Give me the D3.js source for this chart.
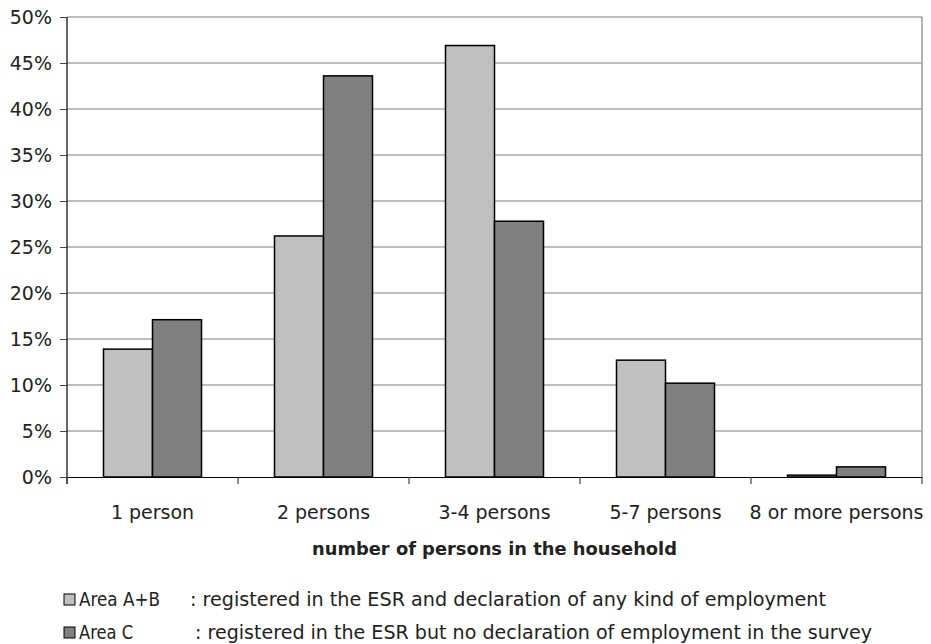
<!DOCTYPE html>
<html><head><meta charset="utf-8">
<script src="https://cdn.jsdelivr.net/npm/d3@7"></script>
<style>body{margin:0;background:#fff}svg{display:block}text{font-family:"DejaVu Sans",sans-serif;fill:#222}</style>
</head><body><svg id="c" width="931" height="644"></svg>
<script>
const categories = ["1 person","2 persons","3-4 persons","5-7 persons","8 or more persons"];
const areaAB = [13.9, 26.2, 46.9, 12.7, 0.2];
const areaC  = [17.1, 43.6, 27.8, 10.2, 1.1];
const seriesNames = ["Area A+B","Area C"];
const seriesDesc = [": registered in the ESR and declaration of any kind of employment", ": registered in the ESR but no declaration of employment in the survey"];
const yTicks = [0,5,10,15,20,25,30,35,40,45,50];
const colors = ["#c0c0c0","#808080"];

const svg = d3.select("#c");
const L=67, R=922, T=17, B=477;
const x = d3.scaleBand().domain(categories).range([L,R]);
const bw = x.bandwidth();
const grpW = 98;
const y = d3.scaleLinear().domain([0,50]).range([B,T]);

// gridlines
svg.append("g").selectAll("line").data(yTicks.filter(d=>d>0)).join("line")
  .attr("x1",L).attr("x2",R).attr("y1",d=>y(d)).attr("y2",d=>y(d))
  .attr("stroke","#7f7f7f").attr("stroke-width",1.2);
// right border
svg.append("line").attr("x1",R).attr("x2",R).attr("y1",T).attr("y2",B).attr("stroke","#999").attr("stroke-width",1.5);

// bars
[areaAB, areaC].forEach((vals,si)=>{
  svg.append("g").selectAll("rect").data(vals).join("rect")
    .attr("x",(d,i)=>x(categories[i]) + (bw-grpW)/2 + si*grpW/2)
    .attr("width",grpW/2)
    .attr("y",d=>y(d)).attr("height",d=>B-y(d))
    .attr("fill",colors[si]).attr("stroke","#000").attr("stroke-width",1.5);
});

// y axis
const ya = svg.append("g").attr("transform",`translate(${L},0)`)
  .call(d3.axisLeft(y).tickValues(yTicks).tickFormat(d=>d+"%").tickSize(7).tickPadding(8));
ya.select(".domain").attr("d",`M0,${T}V${B+7}`).attr("stroke","#000").attr("stroke-width",1.2);
ya.selectAll(".tick line").attr("stroke","#444");
ya.selectAll("text").attr("font-size",19).attr("font-family","DejaVu Sans").attr("fill","#222").attr("dy","0.35em");

// x axis
const xa = svg.append("g").attr("transform",`translate(0,${B})`)
  .call(d3.axisBottom(x).tickSize(0).tickPadding(0));
xa.select(".domain").attr("stroke","#000").attr("stroke-width",1.2);
xa.selectAll("text").attr("font-size",19).attr("font-family","DejaVu Sans").attr("fill","#222")
  .attr("dy",0).attr("y",42);
svg.append("g").selectAll("line").data(categories.concat([null])).join("line")
  .attr("x1",(d,i)=>L+i*bw).attr("x2",(d,i)=>L+i*bw).attr("y1",B).attr("y2",B+7)
  .attr("stroke","#444").attr("stroke-width",1.2);

// axis title
svg.append("text").attr("x",(L+R)/2).attr("y",555).attr("text-anchor","middle")
  .attr("font-size",18).attr("font-weight","bold")
  .attr("textLength",365).attr("lengthAdjust","spacingAndGlyphs")
  .text("number of persons in the household");

// legend
const ly=[606,639];
seriesNames.forEach((n,i)=>{
  svg.append("rect").attr("x",64).attr("y",ly[i]-12).attr("width",11).attr("height",11)
    .attr("fill",colors[i]).attr("stroke","#000").attr("stroke-width",1);
  svg.append("text").attr("x",79).attr("y",ly[i]).attr("font-size",19)
    .attr("textLength", i==0?81:54).attr("lengthAdjust","spacingAndGlyphs").text(n);
  svg.append("text").attr("x",i==0?190:195).attr("y",ly[i]).attr("font-size",19)
    .attr("textLength", i==0?636:677).attr("lengthAdjust","spacingAndGlyphs").text(seriesDesc[i]);
});
</script></body></html>
